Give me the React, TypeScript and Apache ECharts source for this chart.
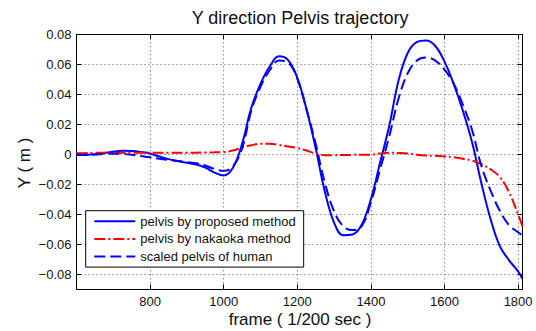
import React, { useEffect, useRef } from "react";
import * as echarts from "echarts";

const frames = [600, 625, 650, 675, 700, 725, 750, 775, 800, 825, 850, 875, 900, 925, 950, 975, 1000, 1025, 1050, 1075, 1100, 1125, 1150, 1175, 1200, 1225, 1250, 1275, 1300, 1325, 1350, 1375, 1400, 1425, 1450, 1475, 1500, 1525, 1550, 1575, 1600, 1625, 1650, 1675, 1700, 1725, 1750, 1775, 1800, 1812];

const proposed = [-0.0005, -0.0004, 0.0, 0.0008, 0.0017, 0.0024, 0.0022, 0.0015, 0.0005, -0.0015, -0.0032, -0.0045, -0.0057, -0.0068, -0.0088, -0.0122, -0.0142, -0.009, 0.007, 0.031, 0.047, 0.0585, 0.0653, 0.0628, 0.051, 0.03, 0.004, -0.025, -0.0455, -0.054, -0.0535, -0.047, -0.03, -0.0055, 0.019, 0.049, 0.0675, 0.0748, 0.0758, 0.0722, 0.0618, 0.047, 0.029, 0.008, -0.019, -0.043, -0.061, -0.0705, -0.078, -0.083];

const nakaoka = [0.0007, 0.0008, 0.001, 0.001, 0.001, 0.001, 0.001, 0.001, 0.001, 0.001, 0.001, 0.001, 0.001, 0.0011, 0.0012, 0.0013, 0.0015, 0.0025, 0.0045, 0.006, 0.0071, 0.007, 0.0063, 0.0052, 0.0042, 0.0025, 0.0005, -0.0006, -0.0006, -0.0005, -0.0004, -0.0003, -0.0002, 0.0005, 0.001, 0.0009, 0.0006, -0.0003, -0.0008, -0.001, -0.0014, -0.002, -0.003, -0.0042, -0.0065, -0.01, -0.015, -0.025, -0.04, -0.048];

const human = [-0.0005, -0.0004, -0.0002, 0.0002, 0.0004, 0.0002, -0.0003, -0.0012, -0.002, -0.003, -0.0038, -0.0045, -0.0052, -0.006, -0.0075, -0.0098, -0.011, -0.008, 0.004, 0.029, 0.045, 0.056, 0.0625, 0.0612, 0.0505, 0.03, 0.007, -0.019, -0.038, -0.048, -0.0505, -0.048, -0.032, -0.01, 0.012, 0.037, 0.054, 0.0625, 0.0645, 0.0625, 0.0565, 0.047, 0.033, 0.0162, -0.0075, -0.024, -0.0375, -0.0471, -0.052, -0.054];

const seriesNames = ["pelvis by proposed method", "pelvis by nakaoka method", "scaled pelvis of human"];
const xTicks = [800, 1000, 1200, 1400, 1600, 1800];
const yTicks = [-0.08, -0.06, -0.04, -0.02, 0, 0.02, 0.04, 0.06, 0.08];

const FONT = "'Liberation Sans', Arial, Helvetica, sans-serif";

function pairs(ys: number[]) {
  return frames.map((f, i) => [f, ys[i]]);
}

function fmtY(v: number) {
  if (Math.abs(v) < 1e-9) return "0";
  return (v < 0 ? "\u2212" : "") + Math.abs(v).toFixed(2);
}

export default function App() {
  const ref = useRef<HTMLDivElement>(null);
  useEffect(() => {
    if (!ref.current) return;
    const chart = echarts.init(ref.current, null, { renderer: "svg" });
    const gridLine = { show: true, lineStyle: { color: "#555", width: 1, type: [1, 3] as any } };
    const axisLine = { show: true, onZero: false, lineStyle: { color: "#000", width: 1 } };
    const tick = (vals: number[]) => ({ show: true, inside: true, length: 5, customValues: vals, lineStyle: { color: "#000" } });
    chart.setOption({
      animation: false,
      backgroundColor: "#fff",
      grid: { left: 76.5, top: 34.3, right: 13.5, bottom: 41.7 },
      xAxis: [
        {
          type: "value",
          min: 600,
          max: 1812,
          position: "bottom",
          axisLine,
          axisTick: tick(xTicks),
          splitLine: { ...gridLine, customValues: xTicks },
          axisLabel: {
            customValues: xTicks,
            margin: 6,
            fontSize: 13,
            fontFamily: FONT,
            color: "#111",
            formatter: (v: number) => String(v),
          },
        },
        {
          type: "value",
          min: 600,
          max: 1812,
          position: "top",
          axisLine,
          axisTick: tick(xTicks),
          splitLine: { show: false },
          axisLabel: { show: false },
        },
      ],
      yAxis: [
        {
          type: "value",
          min: -0.09,
          max: 0.08,
          position: "left",
          axisLine,
          axisTick: tick(yTicks),
          splitLine: { ...gridLine, customValues: yTicks },
          axisLabel: {
            customValues: yTicks,
            margin: 5,
            fontSize: 13,
            fontFamily: FONT,
            color: "#111",
            formatter: fmtY,
          },
        },
        {
          type: "value",
          min: -0.09,
          max: 0.08,
          position: "right",
          axisLine,
          axisTick: tick(yTicks),
          splitLine: { show: false },
          axisLabel: { show: false },
        },
      ],
      legend: {
        orient: "vertical",
        left: 85.7,
        top: 210.7,
        padding: [4, 8, 4, 7.6],
        itemWidth: 41,
        itemHeight: 14,
        itemGap: 4.7,
        borderColor: "#000",
        borderWidth: 1,
        borderRadius: 0,
        backgroundColor: "#fff",
        itemStyle: { opacity: 0, borderWidth: 0 },
        textStyle: { fontSize: 13, fontFamily: FONT, color: "#111" },
        data: seriesNames,
      },
      graphic: [
        {
          type: "text",
          x: 300,
          y: 18,
          style: {
            text: "Y direction Pelvis trajectory",
            font: `18px ${FONT}`,
            fill: "#111",
            textAlign: "center",
            textVerticalAlign: "middle",
          },
        },
        {
          type: "text",
          x: 300,
          y: 319,
          style: {
            text: "frame ( 1/200 sec )",
            font: `17px ${FONT}`,
            fill: "#111",
            textAlign: "center",
            textVerticalAlign: "middle",
          },
        },
        {
          type: "text",
          x: 24,
          y: 163,
          rotation: Math.PI / 2,
          style: {
            text: "Y ( m )",
            font: `17px ${FONT}`,
            fill: "#111",
            textAlign: "center",
            textVerticalAlign: "middle",
          },
        },
      ],
      series: [
        {
          name: seriesNames[0],
          type: "line",
          data: pairs(proposed),
          smooth: 0.4,
          symbol: "none",
          lineStyle: { color: "#0000ff", width: 2, type: "solid" },
          itemStyle: { color: "#0000ff" },
        },
        {
          name: seriesNames[1],
          type: "line",
          data: pairs(nakaoka),
          smooth: 0.4,
          symbol: "none",
          lineStyle: { color: "#ff0000", width: 2, type: [11, 3, 2, 3] },
          itemStyle: { color: "#ff0000" },
        },
        {
          name: seriesNames[2],
          type: "line",
          data: pairs(human),
          smooth: 0.4,
          symbol: "none",
          lineStyle: { color: "#0000ff", width: 2, type: [11, 5] },
          itemStyle: { color: "#0000ff" },
        },
      ],
    });
    return () => chart.dispose();
  }, []);
  return (
    <div
      ref={ref}
      style={{ position: "fixed", left: 0, top: 0, width: 536, height: 331, background: "#fff" }}
    />
  );
}
